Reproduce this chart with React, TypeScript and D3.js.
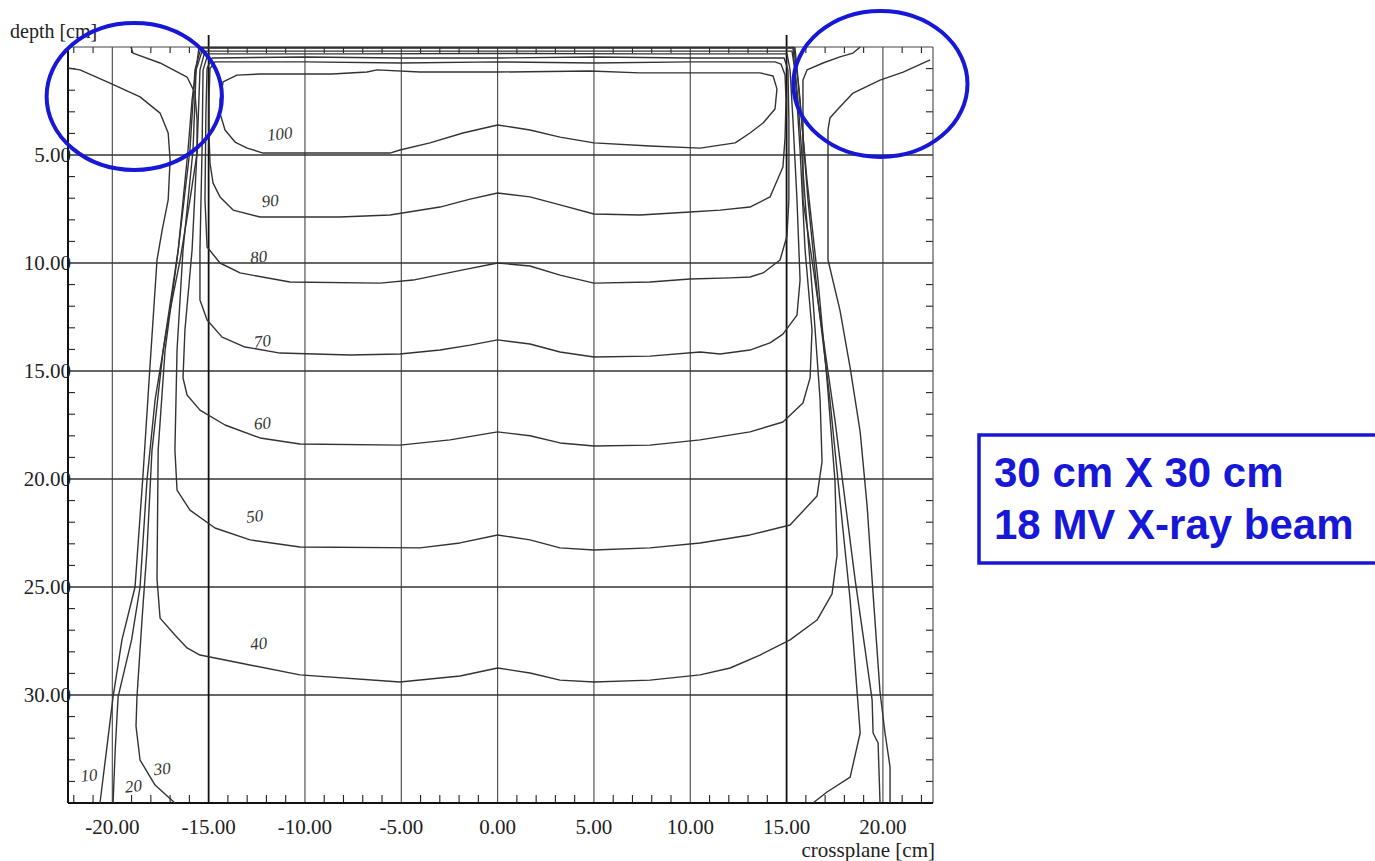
import * as d3 from "d3";
import React from "react";

// isodose curves, [crossplane cm, depth cm]
const iso100: [number, number][] = [
  [-13.53, 1.3], [-14.25, 1.62], [-14.41, 2.45], [-14.41, 3.06], [-14.15, 3.84], [-13.63, 4.4],
  [-13.0, 4.68], [-12.17, 4.91], [-9.58, 4.91], [-5.59, 4.91], [-5.07, 4.77], [-3.51, 4.44],
  [-1.8, 3.98], [0, 3.61], [1.68, 3.84], [3.24, 4.17], [5.0, 4.44], [7.91, 4.58], [10.51, 4.68],
  [12.33, 4.44], [13.1, 3.98], [13.78, 3.52], [14.4, 2.87], [14.5, 1.94], [14.3, 1.34],
  [13.62, 1.2], [10.51, 1.2], [7.39, 1.2], [4.8, 1.11], [0, 1.16], [-4.03, 1.16], [-6.26, 1.06],
  [-6.78, 1.16], [-8.6, 1.25], [-12.33, 1.25],
];
const iso90: [number, number][] = [
  [-14.67, 0.69], [-14.93, 1.0], [-14.98, 2.45], [-14.98, 4.0], [-14.93, 5.37], [-14.77, 6.3],
  [-14.41, 6.94], [-13.73, 7.55], [-12.33, 7.87], [-10.26, 7.87], [-8.18, 7.87], [-5.59, 7.78],
  [-2.99, 7.41], [-1.43, 7.04], [0, 6.76], [1.68, 6.94], [3.24, 7.31], [5.0, 7.73], [7.39, 7.78],
  [9.99, 7.64], [11.55, 7.55], [13.1, 7.41], [14.14, 6.94], [14.81, 5.56], [14.92, 4.21],
  [14.97, 2.45], [14.92, 1.3], [14.71, 0.79], [14.4, 0.69], [10.0, 0.69], [5.0, 0.74], [0, 0.69],
  [-5.0, 0.74], [-10.0, 0.69],
];
const iso80: [number, number][] = [
  [-14.82, 0.51], [-15.08, 0.97], [-15.14, 3.0], [-15.19, 7.08], [-15.08, 9.26], [-14.41, 10.0],
  [-13.37, 10.46], [-10.78, 10.88], [-6.1, 10.93], [-4.39, 10.79], [-1.8, 10.32], [0, 10.0],
  [1.68, 10.14], [3.24, 10.56], [5.0, 10.93], [7.91, 10.88], [9.99, 10.74], [12.07, 10.69],
  [13.1, 10.65], [13.78, 10.46], [14.66, 9.86], [15.02, 8.75], [15.12, 7.08], [15.12, 3.38],
  [15.07, 1.06], [14.87, 0.51], [10.0, 0.51], [5.0, 0.46], [0, 0.51], [-5.0, 0.51], [-10.0, 0.46],
];
const iso70: [number, number][] = [
  [-15.03, 0.32], [-15.29, 1.06], [-15.34, 4.68], [-15.45, 9.4], [-15.45, 11.71], [-15.08, 12.64],
  [-14.3, 13.43], [-13.11, 13.89], [-11.29, 14.17], [-7.66, 14.26], [-5.07, 14.21], [-2.99, 14.03],
  [-1.43, 13.8], [0, 13.56], [1.68, 13.75], [3.24, 14.12], [5.0, 14.35], [7.91, 14.31],
  [10.51, 14.12], [11.55, 14.21], [13.1, 14.03], [14.14, 13.7], [14.81, 13.29], [15.54, 12.41],
  [15.7, 10.79], [15.54, 7.08], [15.33, 3.38], [15.18, 1.06], [15.02, 0.32], [8.0, 0.32], [0, 0.3],
  [-8.0, 0.32],
];
const iso60: [number, number][] = [
  [-15.19, 0.19], [-15.45, 1.06], [-15.6, 4.77], [-15.86, 9.4], [-16.23, 13.1], [-16.33, 15.32],
  [-16.12, 16.11], [-15.45, 16.81], [-14.15, 17.5], [-12.33, 18.1], [-10.26, 18.38], [-5.07, 18.43],
  [-2.47, 18.19], [0, 17.82], [1.68, 18.0], [3.24, 18.33], [5.0, 18.47], [7.91, 18.43],
  [10.51, 18.19], [13.1, 17.82], [14.81, 17.36], [15.85, 16.48], [16.22, 15.32], [16.32, 13.1],
  [15.96, 9.4], [15.7, 4.77], [15.43, 1.06], [15.28, 0.19], [0, 0.19],
];
const iso50: [number, number][] = [
  [-15.29, 0.05], [-15.65, 1.06], [-15.81, 4.77], [-16.33, 9.4], [-16.64, 14.03], [-16.75, 18.66],
  [-16.64, 20.51], [-15.97, 21.44], [-14.67, 22.27], [-12.85, 22.82], [-10.26, 23.15],
  [-4.03, 23.19], [-1.95, 22.96], [0, 22.59], [1.68, 22.82], [3.24, 23.19], [5.0, 23.29],
  [7.91, 23.19], [10.51, 22.96], [13.1, 22.59], [15.18, 22.13], [16.58, 20.79], [16.84, 19.21],
  [16.74, 16.34], [16.37, 11.71], [15.96, 7.08], [15.59, 2.45], [15.33, 0.05],
];
const iso40: [number, number][] = [
  [-15.39, 0.02], [-15.71, 1.06], [-15.97, 4.77], [-16.58, 9.4], [-17.26, 14.03], [-17.62, 18.66],
  [-17.68, 24.63], [-17.52, 26.44], [-16.75, 27.22], [-16.12, 27.82], [-15.45, 28.15],
  [-13.37, 28.52], [-10.26, 29.07], [-5.07, 29.4], [-1.95, 29.12], [0, 28.75], [1.68, 28.98],
  [3.24, 29.31], [5.0, 29.4], [7.91, 29.31], [10.51, 29.07], [12.07, 28.75], [13.62, 28.15],
  [15.18, 27.45], [16.58, 26.53], [17.36, 25.32], [17.62, 23.52], [17.51, 20.05], [17.1, 15.42],
  [16.63, 10.79], [16.06, 6.16], [15.59, 1.53], [15.38, 0.02],
];

// open curves outside the field, left and right branch
const iso30Left: [number, number][] = [
  [-15.5, 0], [-15.86, 2.45], [-16.07, 4.77], [-16.58, 9.4], [-17.36, 14.03], [-17.94, 18.66],
  [-18.2, 23.29], [-18.46, 26.53], [-18.72, 30.09], [-18.77, 31.44], [-18.56, 33.01],
  [-17.78, 34.17], [-16.75, 35],
];
const iso30Right: [number, number][] = [
  [15.43, 0], [15.7, 2.45], [16.11, 7.08], [16.63, 11.71], [17.25, 16.34], [17.77, 20.97],
  [18.3, 25.6], [18.66, 29.86], [18.82, 31.76], [18.3, 33.8], [17.1, 34.49], [16.37, 35],
];
const iso20Left: [number, number][] = [
  [-19.03, 0], [-18.93, 0.28], [-17.52, 0.74], [-16.12, 1.39], [-15.71, 2.13], [-15.6, 3.38],
  [-15.6, 4.91], [-15.97, 7.08], [-16.48, 9.86], [-17.1, 12.64], [-17.78, 16.34], [-18.2, 20.05],
  [-18.56, 25.0], [-19.0, 27.45], [-19.7, 30.09], [-19.85, 32.55], [-19.96, 35],
];
const iso20Right: [number, number][] = [
  [18.82, 0], [18.45, 0.28], [17.77, 0.46], [16.89, 0.74], [16.06, 1.06], [15.85, 1.53],
  [15.85, 7.08], [16.32, 9.86], [16.84, 13.1], [17.51, 17.27], [18.03, 20.97], [18.56, 24.68],
  [19.08, 27.92], [19.44, 30.23], [19.49, 31.76], [19.75, 32.22], [19.85, 35],
];
const iso10Left: [number, number][] = [
  [-22.3, 0.97], [-21.68, 1.06], [-20.12, 1.67], [-18.56, 2.31], [-17.52, 3.06], [-17.1, 3.98],
  [-17.0, 5.23], [-17.1, 7.08], [-17.41, 8.47], [-17.68, 9.86], [-18.05, 14.86], [-18.41, 19.86],
  [-18.82, 25.0], [-19.5, 27.45], [-19.96, 30.09], [-20.3, 32.55], [-20.64, 35],
];
const iso10Right: [number, number][] = [
  [22.45, 0.6], [21.05, 1.16], [19.85, 1.53], [18.45, 2.13], [17.62, 2.92], [17.25, 3.29],
  [17.15, 3.84], [17.15, 7.08], [17.15, 9.86], [17.77, 12.18], [18.3, 14.86], [18.82, 17.82],
  [19.18, 21.25], [19.49, 25.32], [19.85, 29.86], [20.11, 31.76], [20.37, 33.33], [20.37, 35],
];

// hand-written level labels
const levelLabels = ["100", "90", "80", "70", "60", "50", "40", "30", "20", "10"];
const labelX = [-11.3, -11.8, -12.4, -12.2, -12.2, -12.6, -12.4, -17.4, -18.9, -21.2];
const labelDepth = [4.1, 7.2, 9.8, 13.7, 17.5, 21.8, 27.7, 33.5, 34.3, 33.8];

const xMajor = [-20, -15, -10, -5, 0, 5, 10, 15, 20];
const yMajor = [5, 10, 15, 20, 25, 30];
const fieldEdges = [-15, 15];

const beamText = ["30 cm X 30 cm", "18 MV X-ray beam"];

const W = 1375, H = 861;
const BLUE = "#1717d8";

export default function App() {
  const x = d3.scaleLinear().domain([-22.3, 22.6]).range([68, 933]);
  const y = d3.scaleLinear().domain([0, 35]).range([47, 803]);

  const line = d3.line<[number, number]>().x(d => x(d[0])).y(d => y(d[1]));
  const closed = d3.line<[number, number]>().x(d => x(d[0])).y(d => y(d[1])).curve(d3.curveLinearClosed);

  const closedCurves = [iso100, iso90, iso80, iso70, iso60, iso50, iso40];
  const openCurves = [iso30Left, iso30Right, iso20Left, iso20Right, iso10Left, iso10Right];

  const xMinor = d3.range(-22, 23).filter(v => !xMajor.includes(v));
  const yMinor = d3.range(1, 35).filter(v => !yMajor.includes(v));
  const fmt = (v: number) => v.toFixed(2); // plain hyphen, like the scan

  const [x0, x1] = x.range();
  const [y0, y1] = y.range();
  const serif = "'Liberation Serif', 'Times New Roman', serif";

  // annotation ellipses, in data units (centre and radii)
  const rings = [
    { cx: -18.86, cy: 2.29, rx: 4.55, ry: 3.4 },
    { cx: 19.87, cy: 1.71, rx: 4.52, ry: 3.38 },
  ];
  const cmX = x(1) - x(0);
  const cmY = y(1) - y(0);

  return (
    <svg width={W} height={H} style={{ position: "absolute", left: 0, top: 0, background: "#fff" }}>
      <rect width={W} height={H} fill="#fff" />

      {/* grid */}
      {xMajor.filter(v => !fieldEdges.includes(v)).map(v => (
        <line key={"gx" + v} x1={x(v)} x2={x(v)} y1={y0} y2={y1} stroke="#444" strokeWidth={1.1} />
      ))}
      {yMajor.map(v => (
        <line key={"gy" + v} x1={x0} x2={x1} y1={y(v)} y2={y(v)} stroke="#333" strokeWidth={1.3} />
      ))}
      {fieldEdges.map(v => (
        <line key={"fe" + v} x1={x(v)} x2={x(v)} y1={y0 - 12} y2={y1} stroke="#111" strokeWidth={1.8} />
      ))}

      {/* minor ticks on four sides */}
      {xMinor.map(v => (
        <g key={"tx" + v} stroke="#222" strokeWidth={1.1}>
          <line x1={x(v)} x2={x(v)} y1={y1} y2={y1 - 8} />
          <line x1={x(v)} x2={x(v)} y1={y0} y2={y0 + 6} />
        </g>
      ))}
      {yMinor.map(v => (
        <g key={"ty" + v} stroke="#222" strokeWidth={1.1}>
          <line x1={x0} x2={x0 + 7} y1={y(v)} y2={y(v)} />
          <line x1={x1} x2={x1 - 7} y1={y(v)} y2={y(v)} />
        </g>
      ))}

      {/* frame */}
      <line x1={x0} x2={x1} y1={y0} y2={y0} stroke="#444" strokeWidth={1.2} />
      <line x1={x1} x2={x1} y1={y0} y2={y1} stroke="#555" strokeWidth={1.2} />
      <line x1={x0} x2={x0} y1={y0} y2={y1} stroke="#111" strokeWidth={2} />
      <line x1={x0} x2={x1} y1={y1} y2={y1} stroke="#111" strokeWidth={2} />

      {/* isodose lines */}
      <g fill="none" stroke="#333" strokeWidth={1.4} strokeLinejoin="round">
        {closedCurves.map((c, i) => <path key={"c" + i} d={closed(c) || ""} />)}
        {openCurves.map((c, i) => <path key={"o" + i} d={line(c) || ""} />)}
      </g>

      {/* level labels */}
      {levelLabels.map((t, i) => (
        <text key={"l" + t} x={x(labelX[i])} y={y(labelDepth[i])} textAnchor="middle" dominantBaseline="middle"
          fontFamily={serif} fontStyle="italic" fontSize={17} fill="#333"
          transform={`rotate(-6 ${x(labelX[i])} ${y(labelDepth[i])})`}>{t}</text>
      ))}

      {/* tick labels */}
      {xMajor.map(v => (
        <text key={"xl" + v} x={x(v)} y={y1 + 31} textAnchor="middle" fontFamily={serif} fontSize={21} fill="#222">
          {fmt(v)}
        </text>
      ))}
      {yMajor.map(v => (
        <text key={"yl" + v} x={x0 + 3} y={y(v) + 7} textAnchor="end" fontFamily={serif} fontSize={21} fill="#222">
          {fmt(v)}
        </text>
      ))}
      <text x={10} y={38} fontFamily={serif} fontSize={20} fill="#222">depth [cm]</text>
      <text x={935} y={857} textAnchor="end" fontFamily={serif} fontSize={21} fill="#222">crossplane [cm]</text>

      {/* annotations */}
      {rings.map((r, i) => (
        <ellipse key={"r" + i} cx={x(r.cx)} cy={y(r.cy)} rx={r.rx * cmX} ry={r.ry * cmY}
          fill="none" stroke={BLUE} strokeWidth={4} />
      ))}
      <rect x={979} y={435} width={420} height={128} fill="none" stroke={BLUE} strokeWidth={3.5} />
      {beamText.map((t, i) => (
        <text key={"b" + i} x={994} y={487 + i * 52} fontFamily="'Liberation Sans', Arial, sans-serif"
          fontWeight="bold" fontSize={42} fill={BLUE}>{t}</text>
      ))}
    </svg>
  );
}
